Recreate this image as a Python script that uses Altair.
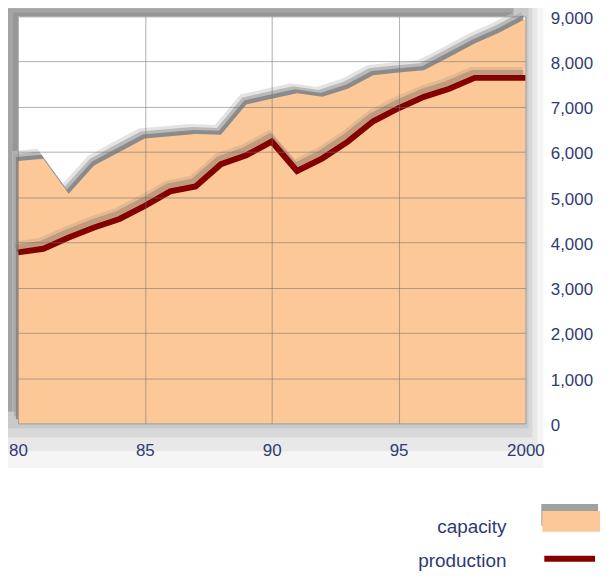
import altair as alt
import pandas as pd

# ---- data ----
years = list(range(1980, 2001))
capacity = [5800, 5850, 5080, 5700, 6000, 6300, 6350, 6400, 6380, 7050, 7180,
            7300, 7220, 7400, 7700, 7760, 7810, 8100, 8400, 8650, 8940]
production = [3780, 3860, 4110, 4330, 4520, 4810, 5130, 5240, 5730, 5930, 6230,
              5580, 5860, 6230, 6680, 6970, 7220, 7400, 7640, 7640, 7640]
x_tick_values = [1980, 1985, 1990, 1995, 2000]
x_tick_labels = ["80", "85", "90", "95", "2000"]
y_tick_values = [0, 1000, 2000, 3000, 4000, 5000, 6000, 7000, 8000, 9000]
legend_labels = ["capacity", "production"]

# ---- styling ----
W, H = 510, 409
PEACH = "#FDC898"
RED = "#850000"
NAVY = "#2f3a73"
FONT = "Liberation Sans"

df = pd.DataFrame({"year": years, "capacity": capacity, "production": production})
one = pd.DataFrame({"d": [0]})

label_expr = " : ".join(
    f"datum.value == {v} ? '{l}'" for v, l in zip(x_tick_values, x_tick_labels)
) + " : ''"

x_enc = alt.X(
    "year:Q",
    scale=alt.Scale(domain=[1980, 2000], nice=False, zero=False),
    axis=alt.Axis(
        values=x_tick_values, labelExpr=label_expr, title=None, domain=False,
        ticks=False, grid=True, gridColor="#6e6e6e", gridOpacity=0.55,
        labelPadding=19, labelFontSize=17, labelColor=NAVY, labelFont=FONT,
        labelFlush=False, zindex=1,
    ),
)
y_scale = alt.Scale(domain=[0, 9000], nice=False)
y_axis = alt.Axis(
    values=y_tick_values, format=",d", orient="right", title=None, domain=False,
    ticks=False, grid=True, gridColor="#6e6e6e", gridOpacity=0.55,
    labelPadding=25, labelAlign="left", labelFontSize=17, labelColor=NAVY,
    labelFont=FONT, labelOffset=2, labelFlush=False, zindex=1,
)

# frame drop shadow (decorative)
frame = []
for r, b, op in [(18, 45, 0.05), (12, 28, 0.07), (7, 14, 0.09), (3, 5, 0.1)]:
    frame.append(
        alt.Chart(one).mark_rect(color="#444", opacity=op).encode(
            x=alt.value(-18), x2=alt.value(W + r), y=alt.value(-15), y2=alt.value(H + b)
        )
    )
for l, t, c in [(-18, -15, "#b6b6b6"), (-10, -8, "#a4a4a4"), (-5, -4, "#969696")]:
    frame.append(
        alt.Chart(one).mark_rect(color=c).encode(
            x=alt.value(l), x2=alt.value(W - 12), y=alt.value(t), y2=alt.value(H - 12)
        )
    )
plot_bg = alt.Chart(one).mark_rect(color="white").encode(
    x=alt.value(0), x2=alt.value(W), y=alt.value(0), y2=alt.value(H)
)

base = alt.Chart(df)
cap_shadow3 = base.mark_area(color="#c8c8c8", opacity=0.5, xOffset=-6, yOffset=-10).encode(
    x=x_enc, y=alt.Y("capacity:Q", scale=y_scale, axis=y_axis)
)
cap_shadow2 = base.mark_area(color="#a6a6a6", opacity=0.7, xOffset=-4, yOffset=-7).encode(
    x=x_enc, y=alt.Y("capacity:Q", scale=y_scale, axis=y_axis)
)
cap_shadow1 = base.mark_area(color="#828282", opacity=0.85, xOffset=-2, yOffset=-4).encode(
    x=x_enc, y=alt.Y("capacity:Q", scale=y_scale, axis=y_axis)
)
cap_area = base.mark_area(color=PEACH, opacity=1).encode(
    x=x_enc, y=alt.Y("capacity:Q", scale=y_scale, axis=y_axis)
)
prod_shadow2 = base.mark_line(color="#9a8a80", opacity=0.25, strokeWidth=8,
                              xOffset=-3, yOffset=-7).encode(
    x=x_enc, y=alt.Y("production:Q", scale=y_scale, axis=y_axis)
)
prod_shadow = base.mark_line(color="#7a6458", opacity=0.35, strokeWidth=8,
                             xOffset=-2, yOffset=-4).encode(
    x=x_enc, y=alt.Y("production:Q", scale=y_scale, axis=y_axis)
)
prod_line = base.mark_line(color=RED, strokeWidth=6, strokeJoin="miter").encode(
    x=x_enc, y=alt.Y("production:Q", scale=y_scale, axis=y_axis)
)

# legend (manual)
leg_cap_shadow = alt.Chart(one).mark_rect(color="#8a8a8a", opacity=0.8).encode(
    x=alt.value(526), x2=alt.value(583), y=alt.value(490), y2=alt.value(512)
)
leg_cap = alt.Chart(one).mark_rect(color=PEACH).encode(
    x=alt.value(527), x2=alt.value(585), y=alt.value(497), y2=alt.value(518)
)
leg_prod = alt.Chart(one).mark_rect(color=RED).encode(
    x=alt.value(529), x2=alt.value(580), y=alt.value(542), y2=alt.value(548)
)
leg_t1 = alt.Chart(one).mark_text(align="right", baseline="middle", fontSize=19,
                                  font=FONT, color=NAVY).encode(
    x=alt.value(491), y=alt.value(513), text=alt.value(legend_labels[0])
)
leg_t2 = alt.Chart(one).mark_text(align="right", baseline="middle", fontSize=19,
                                  font=FONT, color=NAVY).encode(
    x=alt.value(491), y=alt.value(547), text=alt.value(legend_labels[1])
)

chart = alt.layer(
    *frame, plot_bg, cap_shadow3, cap_shadow2, cap_shadow1, cap_area,
    prod_shadow2, prod_shadow, prod_line,
    leg_cap_shadow, leg_cap, leg_prod, leg_t1, leg_t2,
).properties(
    width=W, height=H,
    autosize=alt.AutoSizeParams(type="none"),
    padding={"left": 10, "top": 7, "right": 80, "bottom": 150},
    background="white",
).configure_view(stroke=None)

chart.save("out.html", embed_options={"renderer": "svg", "actions": False})
